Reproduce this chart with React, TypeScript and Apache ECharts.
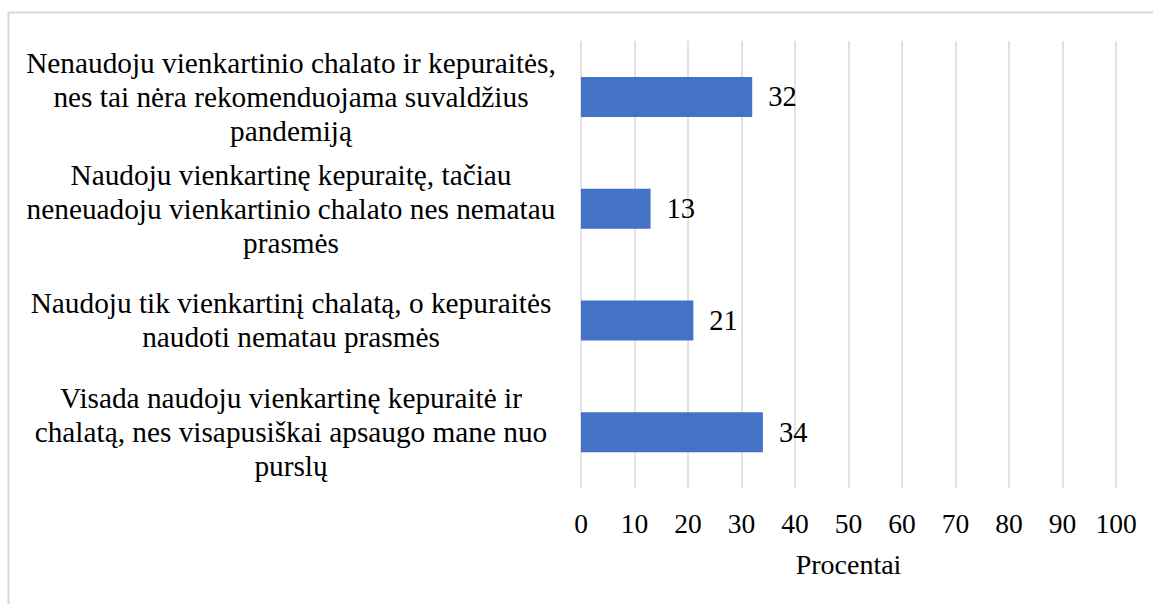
import React, { useEffect, useRef } from "react";
import * as echarts from "echarts";

const categories = [
  "Nenaudoju vienkartinio chalato ir kepuraitės,\nnes tai nėra rekomenduojama suvaldžius\npandemiją",
  "Naudoju vienkartinę kepuraitę, tačiau\nneneuadoju vienkartinio chalato nes nematau\nprasmės",
  "Naudoju tik vienkartinį chalatą, o kepuraitės\nnaudoti nematau prasmės",
  "Visada naudoju vienkartinę kepuraitė ir\nchalatą, nes visapusiškai apsaugo mane nuo\npurslų",
];
const values = [32, 13, 21, 34];
const axisName = "Procentai";

const FONT = "Liberation Serif";

export default function App() {
  const ref = useRef<HTMLDivElement>(null);
  useEffect(() => {
    document.body.style.margin = "0";
    const chart = echarts.init(ref.current!, null, { renderer: "svg" });
    chart.setOption({
      animation: false,
      backgroundColor: "#ffffff",
      textStyle: { fontFamily: FONT, color: "#000" },
      graphic: [
        {
          type: "rect",
          shape: { x: 8.5, y: 12.5, width: 1300, height: 800 },
          style: { fill: "none", stroke: "#D9D9D9", lineWidth: 2 },
          silent: true,
        },
      ],
      grid: { left: 581, right: 37, top: 41, bottom: 116, containLabel: false },
      xAxis: {
        type: "value",
        min: 0,
        max: 100,
        interval: 10,
        name: axisName,
        nameLocation: "middle",
        nameGap: 62,
        nameTextStyle: { fontFamily: FONT, fontSize: 28, color: "#000" },
        axisLine: { show: false },
        axisTick: { show: false },
        axisLabel: { fontFamily: FONT, fontSize: 27.5, color: "#000", margin: 21 },
        splitLine: { show: true, lineStyle: { color: "#D9D9D9", width: 1.5 } },
      },
      yAxis: {
        type: "category",
        inverse: true,
        data: categories,
        axisLine: { show: false },
        axisTick: { show: false },
        axisLabel: {
          fontFamily: FONT,
          fontSize: 29.3,
          color: "#000",
          align: "center",
          margin: 290,
          lineHeight: 34,
        },
      },
      series: [
        {
          type: "bar",
          data: values,
          barWidth: 40,
          itemStyle: { color: "#4472C4" },
          label: {
            show: true,
            position: "right",
            distance: 16,
            fontFamily: FONT,
            fontSize: 28.5,
            color: "#000",
          },
        },
      ],
    });
    return () => chart.dispose();
  }, []);
  return <div ref={ref} style={{ width: 1153, height: 604 }} />;
}
